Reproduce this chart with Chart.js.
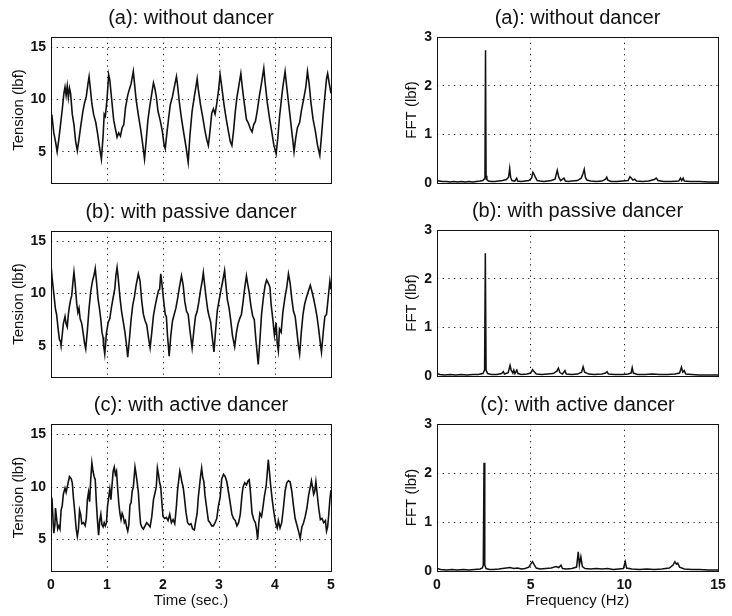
<!DOCTYPE html>
<html>
<head>
<meta charset="utf-8">
<script src="https://cdn.jsdelivr.net/npm/chart.js@4.4.0/dist/chart.umd.min.js"></script>
<style>
  html, body { margin: 0; padding: 0; background: #fff; }
  #wrap { position: relative; width: 732px; height: 616px; overflow: hidden; }
  canvas { position: absolute; }
</style>
</head>
<body>
<div id="wrap">
  <canvas id="timeChartA" width="366" height="200" style="left:0;top:0"></canvas>
  <canvas id="timeChartB" width="366" height="200" style="left:0;top:194px"></canvas>
  <canvas id="timeChartC" width="366" height="229" style="left:0;top:387px"></canvas>
  <canvas id="fftChartA" width="366" height="200" style="left:366px;top:0"></canvas>
  <canvas id="fftChartB" width="366" height="200" style="left:366px;top:193px"></canvas>
  <canvas id="fftChartC" width="366" height="229" style="left:366px;top:387px"></canvas>
</div>
<script>
'use strict';

const panelTitles = ['(a): without dancer', '(b): with passive dancer', '(c): with active dancer'];

const timeTicks = [0, 1, 2, 3, 4, 5];
const tensionTicks = [5, 10, 15];
const freqTicks = [0, 5, 10, 15];
const fftTicks = [0, 1, 2, 3];

// (a) tension, no dancer
const timeA = [
    0.00, 0.02, 0.05, 0.08, 0.11, 0.14, 0.17, 0.20, 0.23, 0.25,
    0.27, 0.29, 0.31, 0.33, 0.35, 0.38, 0.41, 0.44, 0.47, 0.50,
    0.53, 0.57, 0.60, 0.63, 0.66, 0.68, 0.70, 0.73, 0.76, 0.78,
    0.80, 0.83, 0.87, 0.90, 0.93, 0.95, 0.97, 1.00, 1.03, 1.05,
    1.08, 1.12, 1.15, 1.18, 1.21, 1.24, 1.27, 1.30, 1.33, 1.37,
    1.40, 1.43, 1.47, 1.49, 1.52, 1.56, 1.60, 1.64, 1.67, 1.70,
    1.73, 1.76, 1.80, 1.83, 1.85, 1.88, 1.91, 1.95, 1.99, 2.02,
    2.04, 2.07, 2.10, 2.13, 2.17, 2.21, 2.24, 2.26, 2.29, 2.33,
    2.37, 2.41, 2.45, 2.48, 2.52, 2.56, 2.59, 2.61, 2.63, 2.67,
    2.71, 2.75, 2.78, 2.81, 2.84, 2.87, 2.90, 2.93, 2.96, 2.99,
    3.02, 3.05, 3.09, 3.13, 3.17, 3.20, 3.23, 3.26, 3.29, 3.32,
    3.36, 3.39, 3.42, 3.45, 3.49, 3.52, 3.56, 3.59, 3.62, 3.65,
    3.68, 3.72, 3.76, 3.80, 3.82, 3.86, 3.90, 3.94, 3.98, 4.02,
    4.05, 4.08, 4.11, 4.14, 4.18, 4.21, 4.25, 4.29, 4.32, 4.34,
    4.37, 4.40, 4.44, 4.47, 4.51, 4.55, 4.58, 4.61, 4.64, 4.68,
    4.72, 4.76, 4.80, 4.83, 4.86, 4.89, 4.92, 4.94, 4.97, 5.00
];
const tensionA = [
    8.0, 8.3, 6.8, 6.0, 5.0, 6.2, 7.6, 9.0, 10.6, 11.2,
    10.4, 11.3, 10.2, 11.1, 10.6, 8.6, 7.6, 6.0, 5.1, 6.2,
    7.4, 8.9, 9.7, 10.3, 11.5, 12.2, 11.2, 9.6, 8.6, 8.2,
    7.8, 6.8, 5.3, 4.3, 6.5, 8.6, 8.4, 10.0, 12.4, 11.9,
    10.2, 8.0, 7.2, 6.4, 6.8, 6.5, 7.3, 7.6, 9.2, 10.4,
    11.0, 11.5, 12.7, 11.6, 10.0, 8.5, 7.2, 5.6, 4.3, 6.1,
    8.0, 9.2, 10.6, 11.6, 11.2, 10.3, 8.9, 8.0, 6.9, 5.6,
    5.3, 6.8, 8.2, 9.5, 10.3, 11.4, 12.2, 11.4, 9.8, 8.2,
    6.8, 5.5, 4.0, 6.5, 8.9, 10.3, 11.3, 12.0, 11.0, 9.5,
    8.3, 7.0, 6.2, 5.6, 7.0, 8.7, 9.1, 8.6, 9.6, 10.8,
    12.4, 11.2, 9.5, 8.1, 6.9, 6.0, 5.6, 7.0, 8.8, 10.2,
    11.5, 12.5, 11.0, 9.7, 8.1, 7.8, 7.2, 6.9, 7.6, 7.9,
    8.8, 10.3, 11.6, 13.0, 11.8, 9.8, 8.3, 7.0, 5.6, 4.8,
    6.3, 8.3, 9.8, 11.2, 12.7, 11.2, 9.3, 7.4, 6.0, 5.0,
    6.3, 7.3, 7.8, 8.9, 10.0, 11.2, 12.7, 11.5, 9.8, 8.1,
    7.0, 5.6, 4.65, 6.5, 8.5, 10.3, 12.0, 12.5, 11.5, 10.6
];

// (b) tension, passive dancer
const timeB = [
    0.00, 0.02, 0.05, 0.08, 0.10, 0.13, 0.15, 0.17, 0.18, 0.20,
    0.22, 0.25, 0.27, 0.29, 0.31, 0.33, 0.35, 0.37, 0.39, 0.41,
    0.43, 0.46, 0.48, 0.50, 0.52, 0.55, 0.58, 0.60, 0.62, 0.65,
    0.68, 0.71, 0.74, 0.77, 0.79, 0.81, 0.84, 0.87, 0.89, 0.91,
    0.93, 0.94, 0.96, 0.99, 1.02, 1.05, 1.08, 1.11, 1.14, 1.16,
    1.18, 1.20, 1.23, 1.26, 1.29, 1.32, 1.35, 1.37, 1.40, 1.43,
    1.46, 1.49, 1.52, 1.56, 1.59, 1.62, 1.65, 1.68, 1.71, 1.74,
    1.77, 1.80, 1.83, 1.86, 1.89, 1.92, 1.94, 1.96, 1.98, 2.01,
    2.04, 2.06, 2.08, 2.11, 2.14, 2.17, 2.20, 2.23, 2.26, 2.29,
    2.33, 2.36, 2.39, 2.42, 2.45, 2.48, 2.52, 2.55, 2.58, 2.61,
    2.64, 2.67, 2.70, 2.72, 2.74, 2.77, 2.80, 2.82, 2.85, 2.88,
    2.91, 2.94, 2.97, 3.00, 3.03, 3.07, 3.10, 3.12, 3.15, 3.18,
    3.21, 3.24, 3.28, 3.31, 3.34, 3.37, 3.40, 3.43, 3.46, 3.49,
    3.51, 3.54, 3.57, 3.60, 3.63, 3.66, 3.70, 3.73, 3.76, 3.79,
    3.82, 3.85, 3.88, 3.91, 3.93, 3.96, 3.99, 4.02, 4.04, 4.06,
    4.08, 4.11, 4.14, 4.18, 4.21, 4.24, 4.27, 4.30, 4.33, 4.36,
    4.39, 4.42, 4.44, 4.47, 4.50, 4.53, 4.56, 4.60, 4.63, 4.66,
    4.69, 4.72, 4.75, 4.78, 4.81, 4.83, 4.86, 4.89, 4.92, 4.95,
    4.98, 5.00
];
const tensionB = [
    12.8, 11.5, 10.0, 8.5, 8.0, 6.5, 5.6, 5.4, 5.0, 6.0,
    7.1, 7.8, 7.1, 6.8, 8.0, 8.8, 9.4, 9.8, 11.0, 12.05,
    11.0, 9.0, 8.2, 8.6, 7.6, 7.1, 6.0, 5.2, 4.7, 6.5,
    8.6, 10.2, 11.2, 11.8, 12.4, 11.3, 9.5, 8.4, 7.5, 6.3,
    5.8, 5.0, 4.2, 6.2, 7.2, 7.6, 8.7, 9.6, 10.5, 11.8,
    12.5, 11.5, 9.7, 8.3, 7.3, 6.3, 5.0, 3.9, 5.6, 7.5,
    8.9, 9.7, 10.8, 11.9, 11.2, 9.3, 8.0, 7.4, 7.0, 5.8,
    4.8, 6.3, 7.9, 8.8, 9.6, 10.3, 10.4, 11.9, 11.0, 9.4,
    8.0, 7.8, 6.0, 4.0, 6.0, 7.4, 8.0, 8.6, 9.5, 10.5,
    11.7, 10.8, 9.2, 8.3, 8.0, 6.5, 4.8, 6.4, 7.8, 8.3,
    9.2, 10.3, 11.2, 12.0, 11.0, 9.6, 8.4, 7.9, 7.3, 5.8,
    4.4, 6.5, 8.4, 9.3, 10.2, 11.3, 12.2, 11.0, 9.4, 8.6,
    7.4, 6.0, 4.9, 6.2, 7.1, 7.6, 8.0, 9.2, 10.6, 11.7,
    11.0, 10.1, 8.8, 7.9, 7.5, 5.5, 3.2, 5.5, 8.0, 9.5,
    10.7, 11.3, 11.0, 10.6, 9.0, 7.6, 6.0, 7.2, 5.2, 4.5,
    6.6, 6.3, 8.2, 9.7, 10.6, 11.9, 11.0, 9.5, 8.3, 7.8,
    6.4, 4.9, 4.2, 6.3, 8.0, 9.0, 9.6, 10.3, 10.8, 10.2,
    9.5, 8.7, 7.8, 6.6, 5.2, 4.4, 6.2, 7.8, 8.0, 9.6,
    11.2, 10.4
];

// (c) tension, active dancer
const timeC = [
    0.00, 0.02, 0.04, 0.05, 0.07, 0.08, 0.10, 0.12, 0.14, 0.16,
    0.18, 0.20, 0.22, 0.25, 0.27, 0.29, 0.31, 0.33, 0.36, 0.38,
    0.40, 0.42, 0.45, 0.47, 0.49, 0.51, 0.53, 0.55, 0.58, 0.61,
    0.63, 0.65, 0.67, 0.69, 0.71, 0.73, 0.75, 0.77, 0.79, 0.81,
    0.83, 0.85, 0.87, 0.89, 0.91, 0.93, 0.95, 0.97, 0.99, 1.01,
    1.03, 1.05, 1.07, 1.09, 1.11, 1.13, 1.15, 1.17, 1.19, 1.21,
    1.23, 1.25, 1.27, 1.29, 1.31, 1.33, 1.35, 1.37, 1.39, 1.41,
    1.43, 1.45, 1.47, 1.50, 1.52, 1.54, 1.56, 1.58, 1.60, 1.62,
    1.65, 1.68, 1.71, 1.74, 1.77, 1.80, 1.83, 1.86, 1.88, 1.90,
    1.92, 1.94, 1.96, 1.98, 2.00, 2.03, 2.06, 2.09, 2.12, 2.15,
    2.18, 2.21, 2.24, 2.26, 2.28, 2.30, 2.32, 2.34, 2.36, 2.38,
    2.41, 2.44, 2.47, 2.50, 2.53, 2.56, 2.58, 2.61, 2.63, 2.65,
    2.67, 2.69, 2.71, 2.73, 2.75, 2.78, 2.81, 2.84, 2.87, 2.90,
    2.93, 2.96, 2.99, 3.02, 3.05, 3.08, 3.11, 3.14, 3.17, 3.20,
    3.23, 3.26, 3.29, 3.32, 3.35, 3.38, 3.41, 3.43, 3.46, 3.49,
    3.52, 3.54, 3.56, 3.59, 3.62, 3.65, 3.67, 3.69, 3.71, 3.73,
    3.76, 3.78, 3.81, 3.84, 3.86, 3.88, 3.90, 3.92, 3.95, 3.98,
    4.01, 4.04, 4.06, 4.09, 4.12, 4.15, 4.18, 4.21, 4.24, 4.27,
    4.30, 4.33, 4.36, 4.39, 4.42, 4.45, 4.48, 4.51, 4.54, 4.57,
    4.60, 4.63, 4.65, 4.67, 4.69, 4.71, 4.73, 4.75, 4.78, 4.81,
    4.84, 4.87, 4.90, 4.92, 4.94, 4.96, 4.98, 5.00
];
const tensionC = [
    8.2, 8.6, 6.5, 5.6, 6.4, 8.0, 7.0, 6.0, 6.3, 6.0,
    7.8, 8.2, 9.3, 9.9, 9.5, 10.0, 10.5, 11.0, 10.8, 10.4,
    9.0, 7.9, 6.0, 5.3, 6.0, 7.8, 7.4, 6.5, 6.6, 6.3,
    7.0, 8.8, 9.5, 8.6, 10.8, 12.3, 11.5, 11.0, 10.7, 8.5,
    6.8, 5.4, 6.8, 7.4, 6.4, 6.2, 6.6, 6.3, 6.6, 8.2,
    9.0, 9.8, 8.8, 10.2, 11.5, 11.9, 11.2, 11.5, 9.9, 8.5,
    7.5, 6.9, 7.5, 7.2, 6.6, 6.8, 6.2, 5.8, 6.4, 8.3,
    8.5, 9.6, 10.0, 11.9, 11.2, 10.4, 9.5, 7.8, 6.5, 6.2,
    6.0, 6.3, 6.6, 6.4, 6.2, 7.2, 8.8, 9.5, 10.0, 11.8,
    11.2, 10.4, 10.0, 8.5, 7.2, 7.0, 7.1, 6.8, 7.4, 6.6,
    6.9, 6.5, 8.2, 9.7, 10.6, 11.5, 11.0, 10.4, 10.0, 9.1,
    7.6, 6.6, 6.4, 6.5, 6.0, 5.9, 6.6, 7.5, 9.0, 10.0,
    11.0, 11.8, 10.9, 10.5, 9.2, 8.0, 6.8, 6.6, 6.3, 6.3,
    6.6, 7.0, 8.2, 9.0, 10.8, 11.2, 11.0, 10.5, 9.5, 8.5,
    7.4, 7.0, 6.8, 6.3, 6.6, 7.4, 9.2, 10.0, 10.4, 10.2,
    10.6, 10.7, 9.6, 7.5, 6.9, 6.6, 6.0, 5.0, 6.5, 7.5,
    7.2, 7.9, 9.1, 10.0, 11.2, 12.6, 11.5, 10.3, 8.8, 7.6,
    6.6, 6.1, 6.8, 6.1, 6.6, 8.0, 9.6, 10.4, 10.6, 10.5,
    9.6, 8.2, 7.0, 6.4, 5.8, 5.1, 6.2, 6.6, 7.2, 8.0,
    9.2, 10.0, 10.6, 10.0, 9.3, 9.6, 10.5, 9.5, 8.0, 6.9,
    7.0, 6.6, 6.8, 5.8, 6.2, 7.4, 8.8, 9.7
];

// FFT spectra
const freqA = [
    0.0, 0.1, 0.3, 0.5, 0.7, 0.9, 1.1, 1.3, 1.5, 1.7,
    1.9, 2.1, 2.3, 2.45, 2.52, 2.56, 2.59, 2.62, 2.66, 2.75,
    2.9, 3.1, 3.3, 3.5, 3.7, 3.82, 3.88, 3.93, 4.0, 4.15,
    4.25, 4.3, 4.5, 4.7, 4.9, 5.05, 5.12, 5.18, 5.25, 5.35,
    5.5, 5.7, 5.9, 6.1, 6.3, 6.42, 6.5, 6.6, 6.78, 6.85,
    7.0, 7.2, 7.5, 7.7, 7.8, 7.86, 7.92, 8.0, 8.2, 8.5,
    8.8, 9.0, 9.06, 9.12, 9.3, 9.6, 9.9, 10.2, 10.3, 10.38,
    10.45, 10.55, 10.65, 11.0, 11.3, 11.6, 11.7, 11.8, 12.1, 12.5,
    12.9, 13.0, 13.06, 13.14, 13.2, 13.5, 14.0, 14.5, 15.0
];
const fftA = [
    0.06, 0.04, 0.03, 0.03, 0.02, 0.03, 0.02, 0.03, 0.02, 0.03,
    0.02, 0.03, 0.04, 0.05, 0.08, 0.15, 2.73, 0.15, 0.07, 0.04,
    0.03, 0.03, 0.04, 0.05, 0.07, 0.12, 0.30, 0.12, 0.05, 0.04,
    0.10, 0.04, 0.03, 0.04, 0.05, 0.10, 0.22, 0.18, 0.12, 0.05,
    0.04, 0.03, 0.04, 0.05, 0.08, 0.26, 0.12, 0.05, 0.10, 0.04,
    0.03, 0.04, 0.05, 0.10, 0.20, 0.28, 0.12, 0.06, 0.04, 0.03,
    0.04, 0.08, 0.12, 0.06, 0.03, 0.03, 0.04, 0.05, 0.13, 0.10,
    0.06, 0.08, 0.04, 0.03, 0.04, 0.07, 0.10, 0.05, 0.03, 0.03,
    0.04, 0.10, 0.05, 0.10, 0.04, 0.03, 0.03, 0.02, 0.02
];

const freqB = [
    0.0, 0.15, 0.4, 0.7, 1.0, 1.3, 1.6, 1.9, 2.2, 2.45,
    2.54, 2.58, 2.62, 2.7, 2.9, 3.2, 3.45, 3.54, 3.6, 3.8,
    3.9, 3.96, 4.05, 4.1, 4.16, 4.26, 4.32, 4.5, 4.8, 5.0,
    5.1, 5.18, 5.3, 5.6, 5.9, 6.2, 6.4, 6.48, 6.56, 6.7,
    6.83, 6.9, 7.2, 7.5, 7.72, 7.8, 7.88, 8.1, 8.4, 8.8,
    9.0, 9.08, 9.15, 9.5, 9.9, 10.2, 10.36, 10.42, 10.48, 10.7,
    11.1, 11.5, 11.9, 12.3, 12.7, 12.95, 13.05, 13.12, 13.2, 13.28,
    13.6, 14.0, 14.5, 15.0
];
const fftB = [
    0.05, 0.03, 0.02, 0.03, 0.02, 0.03, 0.02, 0.03, 0.03, 0.05,
    0.12, 2.52, 0.12, 0.05, 0.03, 0.03, 0.05, 0.09, 0.04, 0.07,
    0.22, 0.12, 0.06, 0.12, 0.05, 0.12, 0.05, 0.03, 0.04, 0.06,
    0.13, 0.09, 0.04, 0.03, 0.04, 0.05, 0.10, 0.16, 0.07, 0.04,
    0.11, 0.04, 0.03, 0.04, 0.08, 0.19, 0.08, 0.04, 0.03, 0.04,
    0.06, 0.09, 0.04, 0.03, 0.03, 0.04, 0.06, 0.17, 0.06, 0.03,
    0.03, 0.04, 0.03, 0.03, 0.04, 0.06, 0.18, 0.08, 0.11, 0.04,
    0.03, 0.02, 0.02, 0.02
];

const freqC = [
    0.0, 0.2, 0.5, 0.8, 1.1, 1.4, 1.7, 2.0, 2.3, 2.42,
    2.47, 2.51, 2.55, 2.62, 2.8, 3.0, 3.3, 3.5, 3.7, 3.9,
    4.1, 4.3, 4.5, 4.7, 4.9, 5.02, 5.1, 5.2, 5.3, 5.5,
    5.8, 6.1, 6.35, 6.5, 6.62, 6.7, 6.9, 7.2, 7.45, 7.54,
    7.6, 7.68, 7.76, 7.9, 8.2, 8.5, 8.8, 9.1, 9.4, 9.7,
    9.95, 10.05, 10.12, 10.4, 10.8, 11.2, 11.6, 12.0, 12.4, 12.6,
    12.7, 12.78, 12.85, 12.95, 13.2, 13.6, 14.0, 14.5, 15.0
];
const fftC = [
    0.05, 0.03, 0.02, 0.03, 0.02, 0.03, 0.02, 0.03, 0.04, 0.06,
    0.12, 2.21, 0.12, 0.05, 0.03, 0.03, 0.04, 0.05, 0.06, 0.07,
    0.05, 0.06, 0.04, 0.05, 0.08, 0.15, 0.19, 0.12, 0.06, 0.04,
    0.05, 0.06, 0.09, 0.07, 0.12, 0.05, 0.04, 0.05, 0.08, 0.39,
    0.12, 0.29, 0.09, 0.05, 0.04, 0.05, 0.04, 0.05, 0.03, 0.04,
    0.05, 0.19, 0.06, 0.04, 0.03, 0.04, 0.03, 0.04, 0.06, 0.12,
    0.19, 0.14, 0.16, 0.08, 0.04, 0.03, 0.03, 0.02, 0.02
];

const FONT = "'Liberation Sans', Arial, Helvetica, sans-serif";
const INK = '#111';

// box around the plot area, like the matlab axes
const frame = {
    id: 'frame',
    afterDatasetsDraw(chart) {
        const { ctx, chartArea: a } = chart;
        ctx.save();
        ctx.strokeStyle = INK;
        ctx.lineWidth = 1;
        ctx.strokeRect(Math.round(a.left) + 0.5, Math.round(a.top) + 0.5,
            Math.round(a.width), Math.round(a.height));
        ctx.restore();
    }
};

function toPoints(xs, ys) {
    return xs.map((x, i) => ({ x: x, y: ys[i] }));
}

function makePanel(canvasId, points, opts) {

    let grid = { color: INK, lineWidth: 1, drawTicks: false };
    let border = { display: false, dash: [1.2, 4.5] };
    let tickFont = { family: FONT, size: 14, weight: 'bold' };

    return new Chart(document.getElementById(canvasId), {
        type: 'line',
        data: {
            datasets: [{
                data: points,
                borderColor: INK,
                borderWidth: opts.lineWidth,
                pointRadius: 0,
                tension: 0
            }]
        },
        options: {
            responsive: false,
            animation: false,
            devicePixelRatio: 1,
            layout: { padding: { left: 0, right: opts.padRight, top: 0, bottom: 0 } },
            plugins: {
                legend: { display: false },
                tooltip: { enabled: false },
                title: {
                    display: true,
                    text: opts.title,
                    fullSize: false,
                    color: INK,
                    font: { family: FONT, size: 20, weight: 'normal', lineHeight: 1.2 },
                    padding: { top: 6, bottom: 7 }
                }
            },
            scales: {
                x: {
                    type: 'linear',
                    min: opts.xMin,
                    max: opts.xMax,
                    afterBuildTicks: s => { s.ticks = opts.xTicks.map(v => ({ value: v })); },
                    afterFit: s => { s.height = opts.xHeight; },
                    grid: grid,
                    border: border,
                    ticks: { display: opts.showX, color: INK, font: tickFont, padding: 6, maxRotation: 0 },
                    title: {
                        display: opts.showX,
                        text: opts.xTitle,
                        color: INK,
                        font: { family: FONT, size: 15 },
                        padding: { top: 0, bottom: 6 }
                    }
                },
                y: {
                    min: opts.yMin,
                    max: opts.yMax,
                    afterBuildTicks: s => { s.ticks = opts.yTicks.map(v => ({ value: v })); },
                    afterFit: s => { s.width = opts.yWidth; },
                    grid: grid,
                    border: border,
                    ticks: { color: INK, font: tickFont, padding: 5 },
                    title: {
                        display: true,
                        text: opts.yTitle,
                        color: INK,
                        font: { family: FONT, size: 15 },
                        padding: { top: opts.yTitleGap, bottom: 0 }
                    }
                }
            }
        },
        plugins: [frame]
    });
}

const timeSeries = [[timeA, tensionA], [timeB, tensionB], [timeC, tensionC]];
const fftSeries = [[freqA, fftA], [freqB, fftB], [freqC, fftC]];
const letters = ['A', 'B', 'C'];

letters.forEach((k, i) => {
    let last = i === 2;
    makePanel('timeChart' + k, toPoints(timeSeries[i][0], timeSeries[i][1]), {
        title: panelTitles[i],
        xMin: 0, xMax: 5, xTicks: timeTicks,
        yMin: 2, yMax: 16, yTicks: tensionTicks,
        showX: last, xTitle: 'Time (sec.)',
        yTitle: 'Tension (lbf)',
        xHeight: last ? 45 : 17,
        yWidth: 51, yTitleGap: 10, padRight: 35,
        lineWidth: 1.6
    });
    makePanel('fftChart' + k, toPoints(fftSeries[i][0], fftSeries[i][1]), {
        title: panelTitles[i],
        xMin: 0, xMax: 15, xTicks: freqTicks,
        yMin: 0, yMax: 3, yTicks: fftTicks,
        showX: last, xTitle: 'Frequency (Hz)',
        yTitle: 'FFT (lbf)',
        xHeight: last ? 45 : 17,
        yWidth: 71, yTitleGap: 37, padRight: 14,
        lineWidth: 1.5
    });
});
</script>
</body>
</html>
